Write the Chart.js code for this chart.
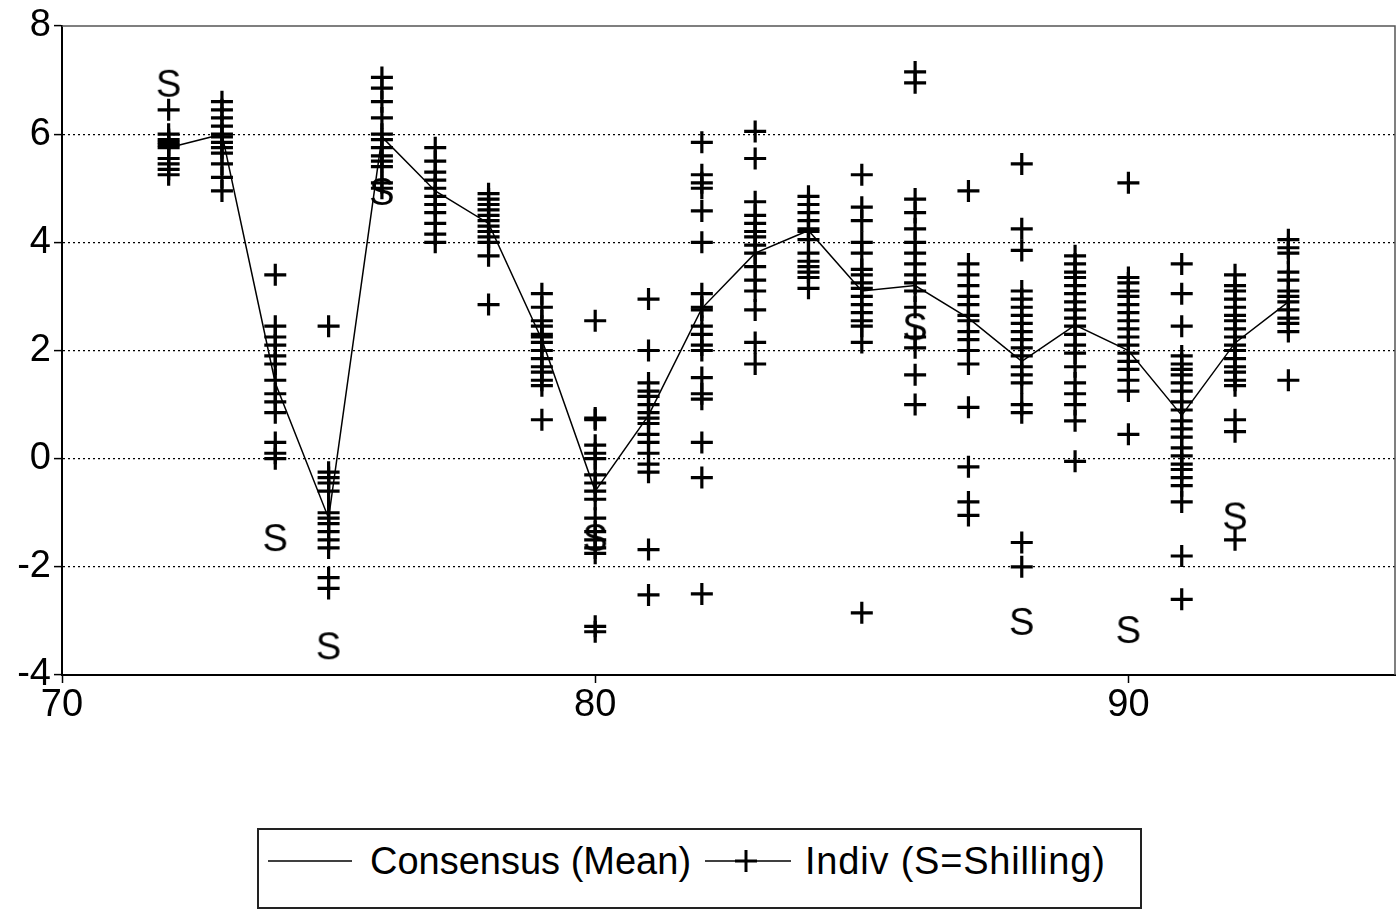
<!DOCTYPE html>
<html>
<head>
<meta charset="utf-8">
<script src="https://cdn.jsdelivr.net/npm/chart.js@4.4.1/dist/chart.umd.min.js"></script>
<style>
html, body { margin: 0; padding: 0; background: #fff; overflow: hidden; }
#quadro { position: relative; width: 1400px; height: 909px; }
#grafico { display: block; }
#legenda {
    position: absolute; left: 257px; top: 828px; width: 881px; height: 77px;
    border: 2px solid #222; background: #fff;
    font-family: "Liberation Sans", Arial, sans-serif; font-size: 38px; color: #000;
}
#legenda .item { position: absolute; top: 10px; line-height: 42px; white-space: nowrap; }
#legenda svg { position: absolute; }
</style>
</head>
<body>
<div id="quadro">
    <canvas id="grafico" width="1400" height="909"></canvas>
    <div id="legenda">
        <svg style="left:9px; top:16px" width="84" height="30"><line x1="0" y1="15" x2="84" y2="15" stroke="#000" stroke-width="1.5"/></svg>
        <span class="item" style="left:111px">Consensus (Mean)</span>
        <svg style="left:446px; top:16px" width="86" height="30">
            <line x1="0" y1="15" x2="86" y2="15" stroke="#000" stroke-width="1.5"/>
            <line x1="30" y1="15" x2="52" y2="15" stroke="#000" stroke-width="3"/>
            <line x1="41" y1="4" x2="41" y2="26" stroke="#000" stroke-width="3"/>
        </svg>
        <span class="item" style="left:546px; letter-spacing:0.8px">Indiv (S=Shilling)</span>
    </div>
</div>
<script>
// anos das previsões (eixo x: 70 = 1970)
const anos = [72, 73, 74, 75, 76, 77, 78, 79, 80, 81, 82, 83, 84, 85, 86, 87, 88, 89, 90, 91, 92, 93];

// consenso (média das previsões)
const consenso = [5.75, 6.0, 1.4, -1.1, 5.95, 4.95, 4.35, 2.2, -0.6, 0.8, 2.78, 3.8, 4.22, 3.1, 3.2, 2.6, 1.8, 2.47, 2.0, 0.8, 2.14, 2.9];

// previsões individuais, uma lista por ano
const indiv = [
    [6.45, 6.0, 5.9, 5.85, 5.8, 5.75, 5.55, 5.45, 5.35, 5.25],
    [6.6, 6.45, 6.3, 6.15, 6.0, 5.95, 5.85, 5.75, 5.65, 5.45, 5.2, 4.95],
    [3.4, 2.45, 2.25, 2.1, 1.9, 1.75, 1.45, 1.2, 1.05, 0.85, 0.3, 0.1, 0.0],
    [2.45, -0.25, -0.35, -0.45, -0.6, -1.0, -1.1, -1.2, -1.35, -1.5, -1.65, -2.2, -2.4],
    [7.05, 6.85, 6.6, 6.3, 6.0, 5.9, 5.75, 5.6, 5.5, 5.4, 5.1, 5.0],
    [5.75, 5.5, 5.3, 5.15, 5.0, 4.85, 4.7, 4.55, 4.35, 4.15, 4.0],
    [4.9, 4.8, 4.7, 4.6, 4.5, 4.4, 4.3, 4.2, 4.1, 4.0, 3.75, 2.85],
    [3.05, 2.8, 2.55, 2.45, 2.3, 2.25, 2.15, 2.0, 1.85, 1.7, 1.6, 1.45, 1.35, 0.72],
    [2.55, 0.75, 0.72, 0.25, 0.1, 0.0, -0.3, -0.45, -0.6, -0.75, -1.1, -1.35, -1.5, -1.65, -1.75, -3.1, -3.2],
    [2.95, 2.0, 1.4, 1.25, 1.15, 1.0, 0.85, 0.75, 0.65, 0.45, 0.3, 0.1, -0.1, -0.25, -1.68, -2.52],
    [5.85, 5.25, 5.1, 5.0, 4.58, 4.0, 3.05, 2.8, 2.75, 2.45, 2.3, 2.1, 2.0, 1.5, 1.2, 1.1, 0.3, -0.35, -2.5],
    [6.05, 5.55, 4.75, 4.5, 4.35, 4.2, 4.1, 3.95, 3.8, 3.55, 3.3, 3.1, 2.75, 2.15, 1.75],
    [4.85, 4.7, 4.55, 4.4, 4.25, 4.2, 4.05, 3.8, 3.65, 3.55, 3.45, 3.35, 3.15],
    [5.25, 4.65, 4.4, 4.0, 3.8, 3.5, 3.4, 3.25, 3.15, 3.0, 2.85, 2.7, 2.55, 2.45, 2.15, -2.85],
    [7.15, 6.95, 4.8, 4.55, 4.25, 4.0, 3.8, 3.6, 3.4, 3.25, 3.1, 2.8, 2.25, 2.05, 1.55, 1.0],
    [4.95, 3.6, 3.4, 3.2, 3.0, 2.85, 2.65, 2.55, 2.35, 2.2, 2.0, 1.75, 0.95, -0.15, -0.8, -1.05],
    [5.45, 4.25, 3.85, 3.1, 2.95, 2.8, 2.65, 2.5, 2.35, 2.2, 2.05, 1.9, 1.7, 1.55, 1.4, 1.0, 0.85, -1.55, -2.0],
    [3.75, 3.6, 3.45, 3.35, 3.2, 3.05, 2.9, 2.75, 2.6, 2.45, 2.3, 2.1, 1.95, 1.7, 1.4, 1.2, 1.0, 0.7, -0.05],
    [5.1, 3.35, 3.25, 3.1, 3.0, 2.85, 2.7, 2.55, 2.4, 2.25, 2.1, 1.95, 1.8, 1.65, 1.45, 1.25, 0.45],
    [3.6, 3.05, 2.45, 1.9, 1.75, 1.65, 1.55, 1.4, 1.25, 1.05, 0.9, 0.7, 0.55, 0.4, 0.2, 0.05, -0.1, -0.2, -0.35, -0.5, -0.8, -1.8, -2.6],
    [3.4, 3.2, 3.1, 2.95, 2.8, 2.65, 2.55, 2.4, 2.25, 2.1, 2.0, 1.85, 1.7, 1.6, 1.45, 1.35, 0.72, 0.5, -1.5],
    [4.05, 3.9, 3.8, 3.45, 3.3, 3.1, 3.0, 2.9, 2.75, 2.6, 2.5, 2.35, 1.45]
];

// previsões do Shilling (desenhadas como "S")
const shillingAnos    = [72, 74, 75, 76, 80, 86, 88, 90, 92];
const shillingValores = [6.95, -1.45, -3.45, 4.95, -1.45, 2.45, -3.0, -3.15, -1.05];

const ticksX = [70, 80, 90];
const ticksY = [-4, -2, 0, 2, 4, 6, 8];

const fonte = '"Liberation Sans", Arial, sans-serif';

// marcador "S" como imagem para o pointStyle
function criarMarcadorS() {
    const c = document.createElement('canvas');
    c.width = 44; c.height = 46;
    const ctx = c.getContext('2d');
    ctx.font = '38px ' + fonte;
    ctx.textAlign = 'center';
    ctx.textBaseline = 'alphabetic';
    ctx.fillStyle = '#000';
    ctx.fillText('S', 22, 37);
    return c;
}

// borda superior e direita da área do gráfico
const moldura = {
    id: 'moldura',
    beforeDatasetsDraw(chart) {
        const { ctx, chartArea: a } = chart;
        ctx.save();
        ctx.strokeStyle = '#555';
        ctx.lineWidth = 1.5;
        ctx.beginPath();
        ctx.moveTo(a.left, a.top);
        ctx.lineTo(a.right, a.top);
        ctx.lineTo(a.right, a.bottom);
        ctx.stroke();
        ctx.restore();
    }
};

const pontosIndiv = indiv.flatMap((vals, i) => vals.map(v => ({ x: anos[i], y: v })));
const pontosMedia = anos.map((a, i) => ({ x: a, y: consenso[i] }));
const pontosS     = shillingAnos.map((a, i) => ({ x: a, y: shillingValores[i] }));

new Chart(document.getElementById('grafico').getContext('2d'), {
    type: 'scatter',
    data: {
        datasets: [
            { label: 'Consensus (Mean)', data: pontosMedia, showLine: true, borderColor: '#000', borderWidth: 1.5, pointRadius: 0, fill: false },
            { label: 'Indiv (S=Shilling)', data: pontosIndiv, pointStyle: 'cross', pointRadius: 11, borderColor: '#000', borderWidth: 3.2 },
            { label: 'Shilling', data: pontosS, pointStyle: criarMarcadorS(), pointRadius: 20 }
        ]
    },
    options: {
        responsive: false,
        animation: false,
        layout: { autoPadding: false, padding: { left: 0, right: 5, top: 26, bottom: 0 } },
        plugins: { legend: { display: false }, tooltip: { enabled: false } },
        scales: {
            x: {
                type: 'linear', min: 70, max: 95,
                afterFit: (s) => { s.height = 234; s.paddingLeft = 0; s.paddingRight = 0; },
                afterBuildTicks: (s) => { s.ticks = ticksX.map(v => ({ value: v })); },
                ticks: { color: '#000', font: { family: fonte, size: 38 }, padding: 0, maxRotation: 0 },
                grid: { drawOnChartArea: false, drawTicks: true, tickLength: 8, tickColor: '#000', tickWidth: 1.5 },
                border: { color: '#000', width: 2 }
            },
            y: {
                min: -4, max: 8,
                afterFit: (s) => { s.width = 62; s.paddingTop = 0; s.paddingBottom = 0; },
                afterBuildTicks: (s) => { s.ticks = ticksY.map(v => ({ value: v })); },
                ticks: { color: '#000', font: { family: fonte, size: 38 }, padding: 3 },
                grid: {
                    color: (c) => (c.tick && (c.tick.value === 8 || c.tick.value === -4)) ? 'rgba(0,0,0,0)' : '#000',
                    lineWidth: 1.2, tickLength: 8, tickColor: '#000', tickWidth: 1.5
                },
                border: { color: '#000', width: 2, dash: [2, 3] }
            }
        }
    },
    plugins: [moldura]
});
</script>
</body>
</html>
